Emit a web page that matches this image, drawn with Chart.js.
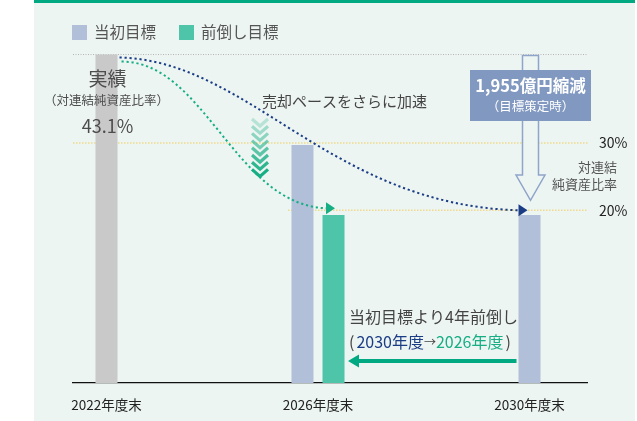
<!DOCTYPE html>
<html lang="ja">
<head>
<meta charset="utf-8">
<script src="https://cdn.jsdelivr.net/npm/chart.js@4.4.1/dist/chart.umd.min.js"></script>
<style>
  html, body { margin: 0; padding: 0; background: #fff; }
  #wrap { width: 637px; height: 421px; position: relative; }
</style>
</head>
<body>
<div id="wrap"><canvas id="chart" width="637" height="421"></canvas></div>
<script>
// data (対連結純資産比率, %)
const years = [2022, 2026, 2030];
const actual = [43.1, null, null];
const initialTarget = [null, 29.7, 19.3];
const advancedTarget = [null, 19.3, null];
const seriesNames = ['実績', '当初目標', '前倒し目標'];
const yTicks = [20, 30];
const Y_MIN = -5.6, Y_MAX = 50;

const FONT = '"Noto Sans CJK JP", "Noto Sans", sans-serif';
const COL = {
  panel: '#edf5f2', topBar: '#00a982',
  gray: '#c8c9c8', blue: '#b1bfd8', green: '#4ec4a8',
  navy: '#1b3d86', teal: '#17ae85', text: '#4d4d4d', dark: '#222',
  box: '#8199c0', hollow: '#8fa4ca', guide: '#f0d98c'
};

const pts = arr => years.map((x, i) => ({ x, y: arr[i] }));

function txt(ctx, s, x, y, size, color, align, weight) {
  ctx.font = (weight || 'normal') + ' ' + size + 'px ' + FONT;
  ctx.fillStyle = color;
  ctx.textAlign = align || 'center';
  ctx.textBaseline = 'middle';
  ctx.fillText(s, x, y);
}

function dotted(ctx, color, dash, width, draw) {
  ctx.save();
  ctx.strokeStyle = color;
  ctx.lineWidth = width;
  ctx.setLineDash(dash);
  ctx.beginPath();
  draw();
  ctx.stroke();
  ctx.restore();
}

function tri(ctx, tipX, tipY, dir, len, half, color) {
  ctx.save();
  ctx.fillStyle = color;
  ctx.beginPath();
  ctx.moveTo(tipX, tipY);
  ctx.lineTo(tipX - dir * len, tipY - half);
  ctx.lineTo(tipX - dir * len, tipY + half);
  ctx.closePath();
  ctx.fill();
  ctx.restore();
}

const decor = {
  id: 'decor',
  beforeDraw(chart) {
    const ctx = chart.ctx;
    ctx.save();
    ctx.fillStyle = COL.panel;
    ctx.fillRect(34, 0, 601, 421);
    ctx.fillStyle = COL.topBar;
    ctx.fillRect(34, 0, 601, 3);
    ctx.restore();
  },
  beforeDatasetsDraw(chart) {
    const { ctx, chartArea: a, scales: { x, y } } = chart;
    const yTop = y.getPixelForValue(actual[0]);
    dotted(ctx, '#b4b4b4', [1, 1.5], 1, () => { ctx.moveTo(a.left, yTop); ctx.lineTo(a.right + 1, yTop); });
    const y30 = y.getPixelForValue(30), y20 = y.getPixelForValue(20);
    dotted(ctx, COL.guide, [1.5, 1.5], 1.5, () => { ctx.moveTo(a.left, y30); ctx.lineTo(a.right + 1, y30); });
    const x26 = x.getPixelForValue(years[1]);
    dotted(ctx, COL.guide, [1.5, 1.5], 1.5, () => { ctx.moveTo(x26 - 30, y20); ctx.lineTo(a.right + 1, y20); });
  },
  afterDatasetsDraw(chart) {
    const { ctx, scales: { x, y } } = chart;
    const x22 = x.getPixelForValue(years[0]);
    const x26 = x.getPixelForValue(years[1]);
    const x30 = x.getPixelForValue(years[2]);
    const yTop = y.getPixelForValue(actual[0]);
    const y20 = y.getPixelForValue(20);

    // legend
    let lx = 72;
    chart.data.datasets.slice(1).forEach(ds => {
      ctx.fillStyle = ds.backgroundColor;
      ctx.fillRect(lx, 25, 15, 15);
      txt(ctx, ds.label, lx + 22, 32.5, 15.5, '#555', 'left');
      ctx.font = '15.5px ' + FONT;
      lx += 22 + ctx.measureText(ds.label).width + 23;
    });

    // actual label
    txt(ctx, '実績', x22 + 1, 79, 19, COL.text);
    txt(ctx, '（対連結純資産比率）', x22, 100, 12.5, COL.text);
    txt(ctx, actual[0] + '%', x22 + 1, 126, 18, COL.text);

    // curves
    const b0x = x22 + 13, b0y = yTop + 3, b1x = x30 - 10, b1y = y20;
    dotted(ctx, COL.navy, [2.2, 2.8], 2, () => {
      ctx.moveTo(b0x, b0y);
      ctx.bezierCurveTo(250, b0y + 3, 330, b1y - 5, b1x, b1y);
    });
    tri(ctx, x30 - 2, y20, 1, 9, 6, COL.navy);

    const g0x = x22 + 15, g0y = yTop + 7, g1x = x26 + 9, g1y = y20 - 2;
    dotted(ctx, COL.teal, [2.2, 2.8], 2, () => {
      ctx.moveTo(g0x, g0y);
      ctx.bezierCurveTo(205, g0y, 235, g1y - 3, g1x, g1y);
    });
    tri(ctx, x26 + 17, y20 - 2, 1, 9, 6, COL.teal);

    // chevrons
    const cx = 260;
    for (let i = 0; i < 8; i++) {
      const cy = 119 + i * 7.2;
      const alpha = 0.25 + 0.75 * i / 7;
      ctx.save();
      ctx.strokeStyle = 'rgba(23,174,133,' + alpha.toFixed(2) + ')';
      ctx.lineWidth = 3.2;
      ctx.beginPath();
      ctx.moveTo(cx - 8, cy);
      ctx.lineTo(cx, cy + 7);
      ctx.lineTo(cx + 8, cy);
      ctx.stroke();
      ctx.restore();
    }
    txt(ctx, '売却ペースをさらに加速', 262, 101, 15, '#444', 'left');

    // hollow arrow
    const ax = x30 + 1;
    ctx.save();
    ctx.strokeStyle = COL.hollow;
    ctx.fillStyle = COL.panel;
    ctx.lineWidth = 1.5;
    ctx.beginPath();
    ctx.moveTo(ax - 8, yTop + 1);
    ctx.lineTo(ax + 8, yTop + 1);
    ctx.lineTo(ax + 8, 175);
    ctx.lineTo(ax + 14.5, 175);
    ctx.lineTo(ax, y20 - 10);
    ctx.lineTo(ax - 14.5, 175);
    ctx.lineTo(ax - 8, 175);
    ctx.closePath();
    ctx.fill();
    ctx.stroke();
    ctx.restore();

    ctx.fillStyle = COL.box;
    ctx.fillRect(ax - 60.5, 70, 121, 51);
    txt(ctx, '1,955億円縮減', ax, 86, 16.5, '#fff', 'center', 'bold');
    txt(ctx, '（目標策定時）', ax, 106, 12.5, '#fff');

    // right axis caption
    txt(ctx, '対連結', 617, 167, 13, '#555', 'right');
    txt(ctx, '純資産比率', 617, 184, 13, '#555', 'right');

    // bottom note
    const nx = 349;
    txt(ctx, '当初目標より4年前倒し', nx, 317, 16, '#444', 'left');
    const parts = [['(', '#444'], ['2030年度', COL.navy], ['→', '#444'], ['2026年度', COL.teal], [')', '#444']];
    let px = nx;
    parts.forEach(([s, c]) => {
      const sz = s === '→' ? 12 : 16;
      txt(ctx, s, px, 342, sz, c, 'left');
      ctx.font = sz + 'px ' + FONT;
      px += ctx.measureText(s).width + (s === '(' || s === '2026年度' ? 2 : 0);
    });
    ctx.save();
    ctx.strokeStyle = COL.topBar;
    ctx.lineWidth = 4;
    ctx.beginPath();
    ctx.moveTo(x30 - 13, 361);
    ctx.lineTo(x26 + 38, 361);
    ctx.stroke();
    ctx.restore();
    tri(ctx, x26 + 30, 361, -1, 11, 6.5, COL.topBar);
  }
};

new Chart(document.getElementById('chart'), {
  type: 'bar',
  data: {
    datasets: [
      { label: seriesNames[0], data: pts(actual), backgroundColor: COL.gray },
      { label: seriesNames[1], data: pts(initialTarget), backgroundColor: COL.blue },
      { label: seriesNames[2], data: pts(advancedTarget), backgroundColor: COL.green }
    ]
  },
  options: {
    responsive: false,
    animation: false,
    devicePixelRatio: 1,
    layout: { padding: { top: 8, left: 73, right: 0, bottom: 0 } },
    datasets: {
      bar: {
        base: Y_MIN,
        skipNull: true,
        categoryPercentage: 0.2935,
        barPercentage: 0.71,
        maxBarThickness: 22
      }
    },
    plugins: { legend: { display: false }, tooltip: { enabled: false } },
    scales: {
      x: {
        type: 'linear',
        offset: false,
        min: 2021.3664,
        max: 2031.0875,
        grid: { display: false, offset: false },
        border: { color: '#111', width: 1.3 },
        afterBuildTicks: s => { s.ticks = years.map(v => ({ value: v })); },
        afterFit: s => { s.height = 38; s.paddingLeft = 0; s.paddingRight = 0; },
        ticks: {
          padding: 6,
          color: COL.dark,
          font: { family: FONT, size: 13.5 },
          callback: v => v + '年度末'
        }
      },
      y: {
        position: 'right',
        min: Y_MIN,
        max: Y_MAX,
        grid: { display: false },
        border: { display: false },
        afterBuildTicks: s => { s.ticks = yTicks.map(v => ({ value: v })); },
        afterFit: s => { s.width = 50; s.paddingTop = 0; s.paddingBottom = 0; },
        ticks: {
          padding: 4,
          color: COL.dark,
          font: { family: FONT, size: 14 },
          callback: v => v + '%'
        }
      }
    }
  },
  plugins: [decor]
});
</script>
</body>
</html>
